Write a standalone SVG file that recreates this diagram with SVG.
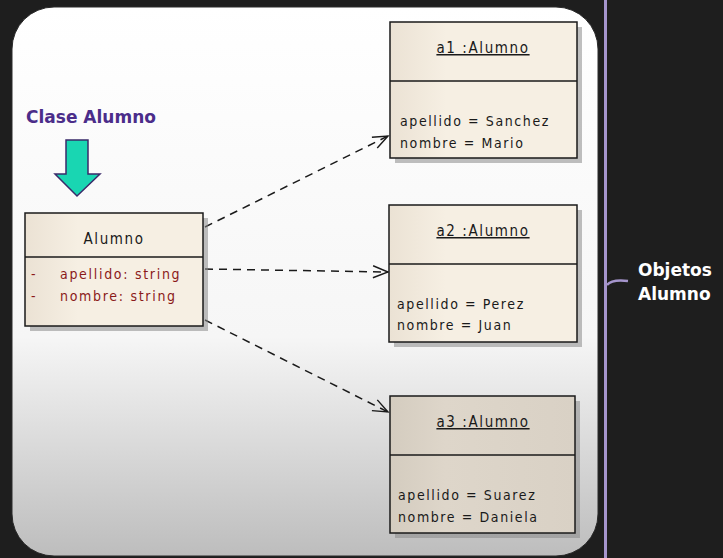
<svg xmlns="http://www.w3.org/2000/svg" width="723" height="558" viewBox="0 0 723 558">
<defs>
<linearGradient id="panel" x1="0" y1="0" x2="0" y2="1">
<stop offset="0" stop-color="#ffffff"/>
<stop offset="0.6" stop-color="#f6f6f6"/>
<stop offset="1" stop-color="#bdbdbd"/>
</linearGradient>
<linearGradient id="box" x1="0" y1="0" x2="1" y2="0">
<stop offset="0" stop-color="#ebe2d4"/>
<stop offset="0.3" stop-color="#f6efe3"/>
<stop offset="1" stop-color="#f6efe3"/>
</linearGradient>
<linearGradient id="box3" x1="0" y1="0" x2="1" y2="0">
<stop offset="0" stop-color="#d4ccbf"/>
<stop offset="0.3" stop-color="#ded6ca"/>
<stop offset="1" stop-color="#d9d1c5"/>
</linearGradient>
<marker id="open" markerWidth="18" markerHeight="14" refX="16" refY="7" orient="auto" markerUnits="userSpaceOnUse">
<path d="M1,1 L16,7 L1,13" fill="none" stroke="#1a1a1a" stroke-width="1.4"/>
</marker>
<style>
.frame{fill:url(#box);stroke:#1a1a1a;stroke-width:1.5}
.shadow{fill:#8a8a8a;opacity:0.55}
.div{stroke:#1a1a1a;stroke-width:1.5}
.t{font-family:"DejaVu Sans Condensed","DejaVu Sans",sans-serif;font-size:14px;fill:#1a1a1a;letter-spacing:1.6px}
.attr{font-family:"DejaVu Sans Condensed","DejaVu Sans",sans-serif;font-size:14px;fill:#8b1a1a;letter-spacing:1.7px}
.title{font-family:"DejaVu Sans Condensed","DejaVu Sans",sans-serif;font-size:15px;fill:#1a1a1a;text-anchor:middle;text-decoration:underline;letter-spacing:1.6px}
.conn{fill:none;stroke:#1a1a1a;stroke-width:1.5;stroke-dasharray:8,6}
.big{font-family:"DejaVu Sans",sans-serif;font-weight:bold;font-size:17px}
</style>
</defs>
<rect x="0" y="0" width="723" height="558" fill="#1e1e1e"/>
<rect x="12" y="7" width="586" height="549" rx="42" ry="42" fill="url(#panel)" stroke="#2a2a2a" stroke-width="1"/>
<g id="bracket">
<line x1="605.5" y1="0" x2="605.5" y2="558" stroke="#a595cc" stroke-width="3"/>
<path d="M607,285 Q612,279 628,281" fill="none" stroke="#a595cc" stroke-width="2.5"/>
<text class="big" x="638" y="276" fill="#ffffff">Objetos</text>
<text class="big" x="638" y="300" fill="#ffffff">Alumno</text>
</g>
<g id="label-clase">
<text class="big" x="26" y="123" fill="#4b2d8a">Clase Alumno</text>
<path d="M66,140 H88 V174 H100 L77,196 L55,174 H66 Z" fill="#19d6b2" stroke="#3a2a6a" stroke-width="1.5"/>
</g>
<g id="connectors">
<line class="conn" x1="205" y1="227" x2="388" y2="136" marker-end="url(#open)"/>
<line class="conn" x1="205" y1="269" x2="388" y2="272" marker-end="url(#open)"/>
<line class="conn" x1="205" y1="320" x2="388" y2="412" marker-end="url(#open)"/>
</g>
<g id="class-alumno">
<rect class="shadow" x="30" y="218" width="178" height="113"/>
<rect class="frame" x="25" y="213" width="178" height="113"/>
<line class="div" x1="25" y1="257" x2="203" y2="257"/>
<text class="t" x="114" y="244" text-anchor="middle" style="font-size:15px">Alumno</text>
<text class="attr" x="31" y="279">-</text>
<text class="attr" x="60" y="279">apellido: string</text>
<text class="attr" x="31" y="301">-</text>
<text class="attr" x="60" y="301">nombre: string</text>
</g>
<g id="a1">
<rect class="shadow" x="395" y="27" width="187" height="136"/>
<rect class="frame" x="390" y="22" width="187" height="136"/>
<line class="div" x1="390" y1="81" x2="577" y2="81"/>
<text class="title" x="483" y="53">a1 :Alumno</text>
<text class="t" x="400" y="126">apellido = Sanchez</text>
<text class="t" x="400" y="148">nombre = Mario</text>
</g>
<g id="a2">
<rect class="shadow" x="394" y="210" width="188" height="137"/>
<rect class="frame" x="389" y="205" width="188" height="137"/>
<line class="div" x1="389" y1="264" x2="577" y2="264"/>
<text class="title" x="483" y="236">a2 :Alumno</text>
<text class="t" x="397" y="309">apellido = Perez</text>
<text class="t" x="397" y="330">nombre = Juan</text>
</g>
<g id="a3">
<rect class="shadow" x="395" y="401" width="185" height="137"/>
<rect class="frame" x="390" y="396" width="185" height="137" style="fill:url(#box3)"/>
<line class="div" x1="390" y1="455" x2="575" y2="455"/>
<text class="title" x="483" y="427">a3 :Alumno</text>
<text class="t" x="398" y="500">apellido = Suarez</text>
<text class="t" x="398" y="522">nombre = Daniela</text>
</g>
</svg>
